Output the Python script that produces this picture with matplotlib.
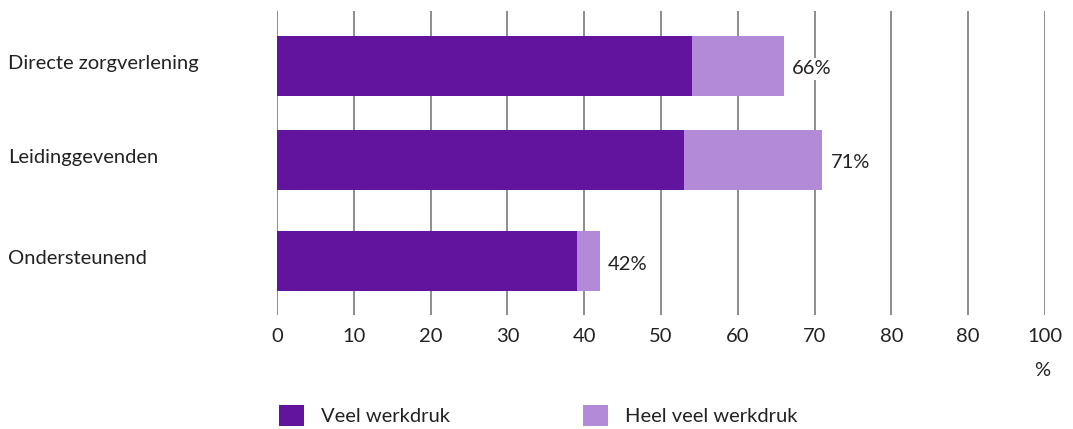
import matplotlib

matplotlib.use("Agg")

import matplotlib.pyplot as plt
import matplotlib.transforms as mtransforms

plt.rcParams["font.family"] = ["Lato", "DejaVu Sans"]

CATEGORIES = ["Directe zorgverlening", "Leidinggevenden", "Ondersteunend"]
VEEL = [54, 53, 39]
HEEL_VEEL = [12, 18, 3]
TOTAL_LABELS = ["66%", "71%", "42%"]
XTICKS = [0, 10, 20, 30, 40, 50, 60, 70, 80, 90, 100]
XTICK_LABELS = ["0", "10", "20", "30", "40", "50", "60", "70", "80", "80", "100"]
SERIES = ["Veel werkdruk", "Heel veel werkdruk"]

DARK = "#63149f"
LIGHT = "#b38ad8"
TEXT = "#222222"
FS = 14.5

# y positions in pixel-like units (axis runs top to bottom)
YPOS = [55, 149, 250]
BAR_H = 60

fig = plt.figure(figsize=(10.73, 4.29), dpi=100)
ax = fig.add_axes([277 / 1073, 1 - 315 / 429, (1045 - 277) / 1073, 304 / 429])

b1 = ax.barh(YPOS, VEEL, height=BAR_H, color=DARK, label=SERIES[0], zorder=2)
lefts = VEEL
totals = [a + b for a, b in zip(VEEL, HEEL_VEEL)]
b2 = ax.barh(YPOS, HEEL_VEEL, left=lefts, height=BAR_H, color=LIGHT,
             label=SERIES[1], zorder=2)

ax.set_xlim(0, 100)
ax.set_ylim(304, 0)
ax.set_xticks(XTICKS)
ax.set_xticklabels(XTICK_LABELS, fontsize=FS, color=TEXT)
ax.set_yticks([])
ax.tick_params(axis="x", length=0, pad=9)
for s in ax.spines.values():
    s.set_visible(False)
for x in XTICKS:
    ax.axvline(x, color="#6e6e6e", lw=1.1, zorder=1)

for y, tot, lab in zip(YPOS, totals, TOTAL_LABELS):
    ax.annotate(lab, (tot, y + 3), xytext=(6, 0), textcoords="offset points",
                va="center", ha="left", fontsize=FS, color=TEXT, zorder=3,
                bbox=dict(boxstyle="square,pad=0.1", fc="white", ec="none"))

trans = mtransforms.blended_transform_factory(fig.transFigure, ax.transData)
for y, cat in zip(YPOS, CATEGORIES):
    ax.text(8 / 1073, y - 3, cat, transform=trans, ha="left", va="center",
            fontsize=FS, color=TEXT)

fig.text(1042 / 1073, 1 - 370 / 429, "%", ha="center", va="center",
         fontsize=FS, color=TEXT)

fig.legend(handles=[b1, b2], loc="upper left",
           bbox_to_anchor=(279 / 1073, 1 - 405 / 429), ncol=2, frameon=False,
           fontsize=FS, handlelength=1.25, handleheight=1.25, handletextpad=0.85,
           columnspacing=6.6, borderpad=0, borderaxespad=0, labelcolor=TEXT)

fig.savefig("out.png", dpi=100)
